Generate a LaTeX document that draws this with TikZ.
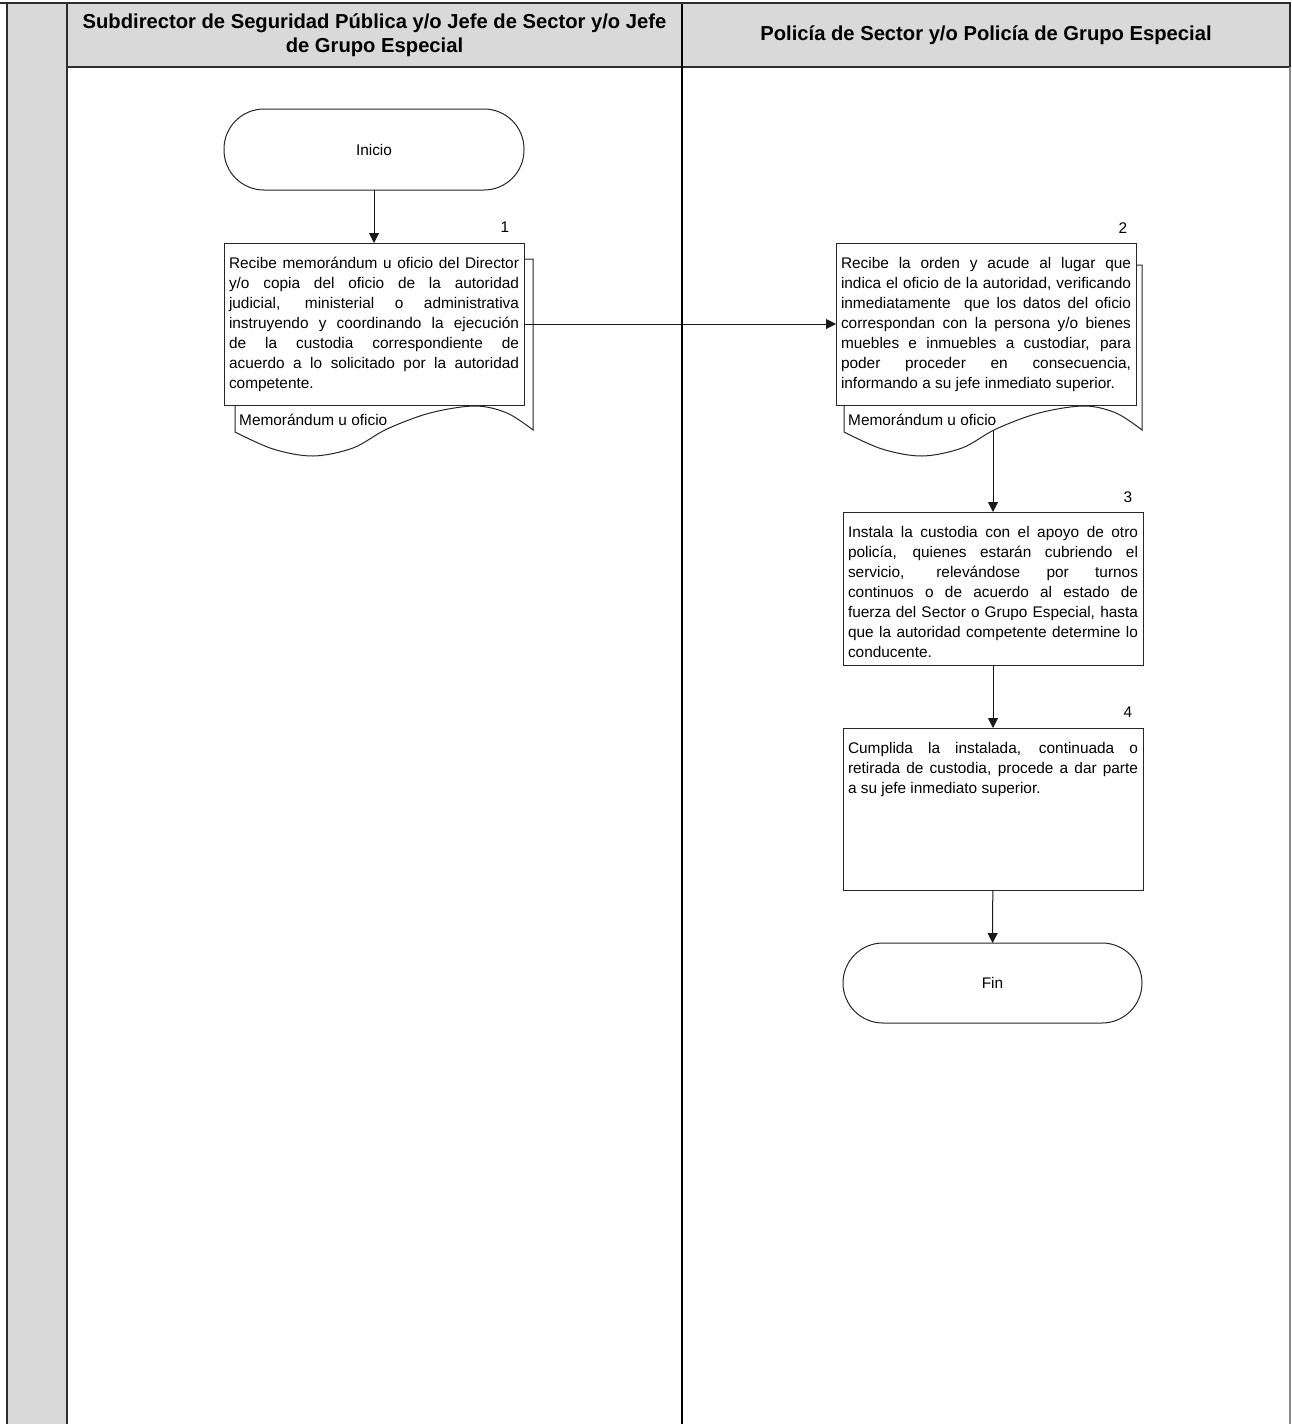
\documentclass[tikz,border=0pt]{standalone}
\usepackage{fontspec}
\setmainfont{Liberation Sans}
\usetikzlibrary{arrows.meta}

\definecolor{lanegray}{RGB}{217,217,217}
\definecolor{rulegray}{RGB}{45,45,45}

% body and header type
\newcommand{\bodyfont}{\fontsize{15.4pt}{20pt}\selectfont}
\newcommand{\headfont}{\fontsize{20.2pt}{24pt}\selectfont\bfseries}
% one fully justified line of a step text
\newcommand{\jl}[1]{\makebox[\linewidth][s]{#1}\\}
% top-aligned step text of a given box height
\newcommand{\steptext}[2]{\parbox[c][#1][t]{290pt}{\bodyfont\rule{0pt}{25pt}#2}}
% document (paper) outline peeking out behind a step box: left x, top y
\newcommand{\docpage}[2]{%
  \begin{scope}[shift={(#1,0)}]
    \draw[docline] (0,#2) -- (298,#2) -- plot[smooth,tension=0.55] coordinates
      {(298,430) (272,413) (240,406) (195,413) (152,429) (118,448) (78,456) (38,449) (0,432)} -- cycle;
  \end{scope}}

\tikzset{
  stepbox/.style={draw=black!85, line width=1pt, fill=white, inner xsep=5pt, inner ysep=0pt, outer sep=0pt},
  term/.style={draw=black!85, line width=1pt, fill=white, rounded corners=40pt,
    minimum width=300pt, minimum height=81pt, inner sep=0pt, outer sep=0pt, font=\bodyfont},
  docline/.style={draw=black!85, line width=1pt, fill=white},
  num/.style={font=\bodyfont, inner sep=0pt},
  doclabel/.style={font=\bodyfont, inner sep=0pt, anchor=west},
  headtxt/.style={font=\headfont, align=center, inner sep=0pt},
  flow/.style={draw=black!90, line width=1pt, -{Triangle[length=10pt,width=10pt]}},
  frame/.style={draw=rulegray, line width=1.6pt},
}

\begin{document}
\begin{tikzpicture}[x=1pt, y=-1pt]
\useasboundingbox (0,0) rectangle (1291,1424);

% ---- swimlane frame ----
\fill[lanegray] (7,3) rectangle (67,1424);
\fill[lanegray] (67,3) rectangle (1290,67);
\draw[frame] (67,67) -- (1290,67);
\draw[frame] (7,3) -- (7,1424);
\draw[frame] (67,3) -- (67,1424);
\draw[draw=black, line width=1.8pt] (682,3) -- (682,1424);
\draw[frame] (1290,3) -- (1290,67);
\draw[draw=black!45, line width=1.2pt] (1290,67) -- (1290,1424);
\draw[draw=rulegray, line width=2.2pt] (0,3) -- (1291,3);

\node[headtxt] (h1) at (374.5,35) {Subdirector de Seguridad Pública y/o Jefe de Sector y/o Jefe\\de Grupo Especial};
\node[headtxt] (h2) at (986,35) {Policía de Sector y/o Policía de Grupo Especial};

% ---- lane 1 ----
\node[term] (ini) at (374,149.5) {Inicio};

\docpage{235}{259}
\node[stepbox] (b1) at (374,324) {\steptext{162pt}{%
\jl{Recibe memorándum u oficio del Director}
\jl{y/o copia del oficio de la autoridad}
\jl{judicial, ministerial o administrativa}
\jl{instruyendo y coordinando la ejecución}
\jl{de la custodia correspondiente de}
\jl{acuerdo a lo solicitado por la autoridad}
competente.}};
\node[num] (n1) at (505,227) {1};
\node[doclabel] (m1) at (239,420) {Memorándum u oficio};

% ---- lane 2 ----
\docpage{844}{265}
\node[stepbox] (b2) at (986,324) {\steptext{162pt}{%
\jl{Recibe la orden y acude al lugar que}
\jl{indica el oficio de la autoridad, verificando}
\jl{inmediatamente\ \ que los datos del oficio}
\jl{correspondan con la persona y/o bienes}
\jl{muebles e inmuebles a custodiar, para}
\jl{poder proceder en consecuencia,}
informando a su jefe inmediato superior.}};
\node[num] (n2) at (1123,228) {2};
\node[doclabel] (m2) at (848,420) {Memorándum u oficio};
\coordinate (w2) at (993,430);

\node[stepbox] (b3) at (993,588.5) {\steptext{153pt}{%
\jl{Instala la custodia con el apoyo de otro}
\jl{policía, quienes estarán cubriendo el}
\jl{servicio, relevándose por turnos}
\jl{continuos o de acuerdo al estado de}
\jl{fuerza del Sector o Grupo Especial, hasta}
\jl{que la autoridad competente determine lo}
conducente.}};
\node[num] (n3) at (1128,497) {3};

\node[stepbox] (b4) at (993,809) {\steptext{162pt}{%
\jl{Cumplida la instalada, continuada o}
\jl{retirada de custodia, procede a dar parte}
a su jefe inmediato superior.}};
\node[num] (n4) at (1128,712) {4};

\node[term, minimum width=299pt, minimum height=80pt] (fin) at (992.5,983) {Fin};

% ---- connectors ----
\draw[flow] (ini) -- (b1);
\draw[flow] (b1.east) -- (b2.west);
\draw[flow] (w2) -- (b3.north);
\draw[flow] (b3) -- (b4);
\draw[flow] (b4) -- (fin);
\end{tikzpicture}
\end{document}
